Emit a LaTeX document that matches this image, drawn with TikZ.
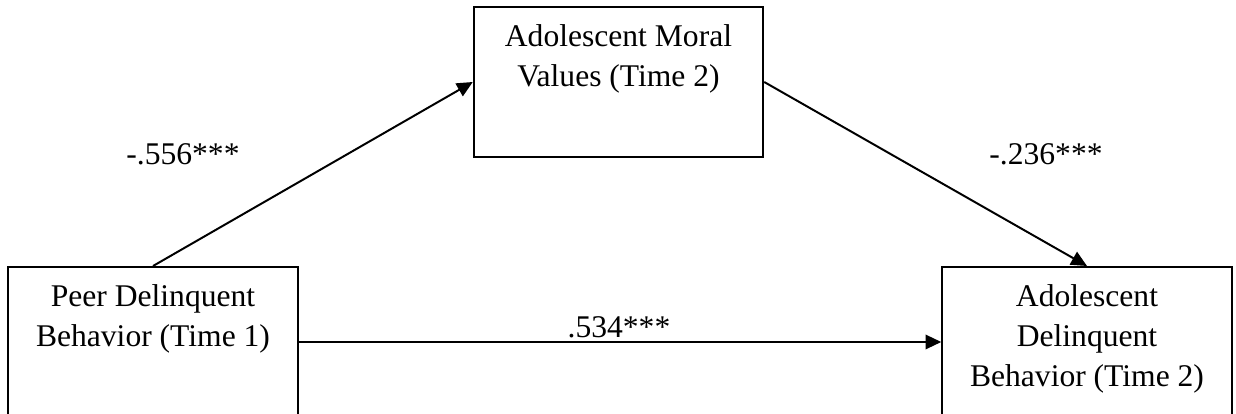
\documentclass[tikz,border=0pt]{standalone}
\usepackage{fontspec}
\setmainfont{Liberation Serif}
\usetikzlibrary{arrows.meta}
\newcommand{\boxtext}[1]{\begin{minipage}[t][57pt][t]{110pt}\centering\fontsize{12}{15.2}\selectfont\rule{0pt}{15.2pt}#1\end{minipage}}
\begin{document}
\begin{tikzpicture}[x=0.38pt,y=-0.38pt,
  varbox/.style={draw, line width=0.75pt, rectangle, inner sep=0pt, minimum width=110pt, minimum height=57pt},
  conn/.style={line width=0.75pt, -{Triangle[length=6pt,width=5.5pt]}},
  coef/.style={font=\fontsize{12}{14}\selectfont, anchor=base, inner sep=0pt}]
\useasboundingbox (0,0) rectangle (1236,414);
\clip (0,0) rectangle (1236,414);
\node[varbox] (T) at (618.5,82) {\boxtext{Adolescent Moral\\Values (Time 2)}};
\node[varbox] (L) at (153,342) {\boxtext{Peer Delinquent\\Behavior (Time 1)}};
\node[varbox] (R) at (1087,342) {\boxtext{Adolescent\\Delinquent\\Behavior (Time 2)}};
\draw[conn] (L.north) -- (T.west);
\draw[conn] (T.east) -- (R.north);
\draw[conn] (L.east) -- (R.west);
\node[coef] (c1) at (183,165) {-.556***};
\node[coef] (c2) at (619,338) {.534***};
\node[coef] (c3) at (1046,165) {-.236***};
\end{tikzpicture}
\end{document}
